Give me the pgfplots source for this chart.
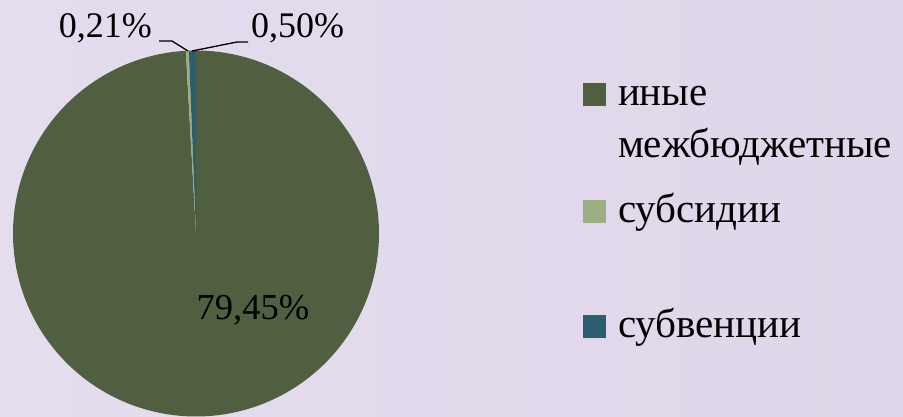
\documentclass[border=0pt]{standalone}
\usepackage{pgfplots}
\pgfplotsset{compat=1.18}
\usepackage{pgfplotstable}
\usepackage{fontspec}
\setmainfont{Liberation Serif}
\definecolor{cA}{RGB}{80,95,64}
\definecolor{cB}{RGB}{155,175,130}
\definecolor{cC}{RGB}{43,94,110}
\definecolor{bgA}{RGB}{229,221,238}
\definecolor{bgB}{RGB}{223,215,233}
\pgfplotstableread{
name value
A 79.45
B 0.21
C 0.50
}\piedata
\pgfplotstablegetelem{0}{value}\of\piedata \let\vA\pgfplotsretval
\pgfplotstablegetelem{1}{value}\of\piedata \let\vB\pgfplotsretval
\pgfplotstablegetelem{2}{value}\of\piedata \let\vC\pgfplotsretval
\pgfmathsetmacro\tot{\vA+\vB+\vC}
\pgfmathsetmacro\fA{\vA/\tot}
\pgfmathsetmacro\fB{\vB/\tot}
\pgfmathsetmacro\fC{\vC/\tot}
\pgfmathsetmacro\aA{90-360*\fA}
\pgfmathsetmacro\aB{\aA-360*\fB}
\pgfmathsetmacro\aC{\aB-360*\fC}
\begin{document}
\begin{tikzpicture}
\shade[left color=bgA, right color=bgB] (0,0) rectangle (903pt,416pt);
\begin{axis}[
  at={(0,0)}, anchor=south west, scale only axis,
  width=903pt, height=416pt,
  xmin=0, xmax=903, ymin=0, ymax=416,
  hide axis,
  legend image code/.code={\fill[#1, draw=none] (0pt,-1pt) rectangle (23pt,22pt);},
  legend style={draw=none, fill=none, inner sep=0pt, outer sep=0pt,
    at={(axis cs:583,333)}, anchor=north west,
    font=\fontsize{41}{52}\selectfont,
    column sep=12pt, row sep=0pt,
    nodes={inner sep=0pt, outer sep=0pt},
    cells={anchor=base west}},
]
\addplot[forget plot, fill=cA, draw=none, domain=\aA:90, samples=361]
  ({196+183*cos(x)},{182.5+183*sin(x)}) -- (196,182.5) -- cycle;
\addplot[forget plot, fill=cB, draw=none, domain=\aB:\aA, samples=5]
  ({196+183*cos(x)},{182.5+183*sin(x)}) -- (196,182.5) -- cycle;
\addplot[forget plot, fill=cC, draw=none, domain=\aC:\aB, samples=9]
  ({196+183*cos(x)},{182.5+183*sin(x)}) -- (196,182.5) -- cycle;
\addplot[forget plot, black, line width=1.3pt] coordinates {(159,375) (172,375) (188,365)};
\addplot[forget plot, black, line width=1.3pt] coordinates {(192,365) (237,374) (248,374)};
\node[anchor=base east, inner sep=0pt, font=\fontsize{36}{43}\selectfont] at (axis cs:152,378) {0,21\%};
\node[anchor=base west, inner sep=0pt, font=\fontsize{36}{43}\selectfont] at (axis cs:251,378) {0,50\%};
\node[anchor=center, inner sep=0pt, font=\fontsize{36.5}{43}\selectfont] at (axis cs:253,106) {79,45\%};
\addlegendimage{fill=cA}
\addlegendentry[text height=22pt, text depth=95pt]{\begin{tabular}[t]{@{}l@{}}иные\\межбюджетные\end{tabular}}
\addlegendimage{fill=cB}
\addlegendentry[text height=22pt, text depth=93pt]{субсидии}
\addlegendimage{fill=cC}
\addlegendentry[text height=22pt, text depth=10pt]{субвенции}
\end{axis}
\end{tikzpicture}
\end{document}
